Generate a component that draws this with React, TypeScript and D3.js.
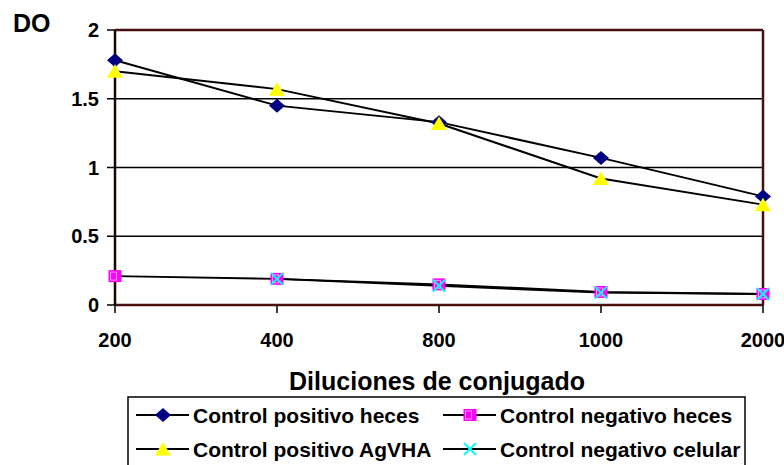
import React from "react";
import * as d3 from "d3";

const categories = ["200", "400", "800", "1000", "2000"];
const positivoHeces = [1.78, 1.45, 1.33, 1.07, 0.79];
const positivoAgVHA = [1.7, 1.57, 1.32, 0.92, 0.73];
const negativoHeces = [0.21, 0.19, 0.15, 0.095, 0.08];
const negativoCelular: (number | null)[] = [null, 0.19, 0.14, 0.09, 0.08];
const yTicks = [0, 0.5, 1, 1.5, 2];
const seriesNames = [
  "Control positivo heces",
  "Control negativo heces",
  "Control positivo AgVHA",
  "Control negativo celular",
];

const FONT = "'Liberation Sans', Arial, sans-serif";

type MarkerKind = "diamond" | "square" | "triangle" | "x";

function Marker({ kind, x, y }: { kind: MarkerKind; x: number; y: number }) {
  if (kind === "diamond") {
    return (
      <path
        d={`M${x - 8},${y} L${x},${y - 7} L${x + 8},${y} L${x},${y + 7} Z`}
        fill="#000080"
      />
    );
  }
  if (kind === "triangle") {
    return (
      <path
        d={`M${x},${y - 7} L${x + 8},${y + 6.5} L${x - 8},${y + 6.5} Z`}
        fill="#ffff00"
      />
    );
  }
  if (kind === "square") {
    return (
      <g>
        <rect x={x - 6.5} y={y - 6} width={13} height={12} fill="#ff00ff" />
        <rect x={x - 4.5} y={y - 4} width={6} height={8} fill="none" stroke="#ff99ff" strokeWidth={1} />
      </g>
    );
  }
  return (
    <g stroke="#00ffff" strokeWidth={2}>
      <line x1={x - 6} y1={y - 6} x2={x + 6} y2={y + 6} />
      <line x1={x - 6} y1={y + 6} x2={x + 6} y2={y - 6} />
    </g>
  );
}

export default function App() {
  const W = 784;
  const H = 465;
  const left = 115;
  const right = 763;
  const top = 30;
  const bottom = 305;

  const x = d3.scalePoint<string>().domain(categories).range([left, right]).padding(0);
  const y = d3.scaleLinear().domain([0, 2]).range([bottom, top]);

  const line = d3
    .line<number | null>()
    .defined((d) => d !== null)
    .x((_, i) => x(categories[i]) as number)
    .y((d) => y(d as number));

  const series: { name: string; values: (number | null)[]; kind: MarkerKind }[] = [
    { name: seriesNames[0], values: positivoHeces, kind: "diamond" },
    { name: seriesNames[1], values: negativoHeces, kind: "square" },
    { name: seriesNames[2], values: positivoAgVHA, kind: "triangle" },
    { name: seriesNames[3], values: negativoCelular, kind: "x" },
  ];

  const drawOrder = [series[0], series[2], series[1], series[3]];

  const legendItems = [
    { s: series[0], lx: 136, ty: 415 },
    { s: series[1], lx: 443, ty: 415 },
    { s: series[2], lx: 136, ty: 449 },
    { s: series[3], lx: 443, ty: 449 },
  ];

  const border = "#4a1010";

  return (
    <svg
      width={W}
      height={H}
      style={{ position: "fixed", left: 0, top: 0, background: "#fff" }}
      fontFamily={FONT}
    >
      <rect x={0} y={0} width={W} height={H} fill="#fff" />
      {yTicks.filter((t) => t > 0 && t < 2).map((t) => (
        <line key={t} x1={left} x2={right} y1={y(t)} y2={y(t)} stroke="#000" strokeWidth={1.5} />
      ))}
      <line x1={left} x2={right} y1={top} y2={top} stroke={border} strokeWidth={2.5} />
      <line x1={right} x2={right} y1={top} y2={bottom} stroke={border} strokeWidth={2.5} />
      <line x1={left} x2={right} y1={bottom} y2={bottom} stroke={border} strokeWidth={2.5} />
      <line x1={left} x2={left} y1={top} y2={bottom} stroke="#1a0505" strokeWidth={2.5} />
      {yTicks.map((t) => (
        <g key={t}>
          <line x1={left - 8} x2={left} y1={y(t)} y2={y(t)} stroke="#000" strokeWidth={1.5} />
          <text x={99} y={y(t)} dy="0.36em" textAnchor="end" fontSize={20} fontWeight="bold">
            {String(t)}
          </text>
        </g>
      ))}
      {categories.map((c) => (
        <g key={c}>
          <line x1={x(c)} x2={x(c)} y1={bottom} y2={bottom + 8} stroke="#000" strokeWidth={1.5} />
          <text x={x(c)} y={347} textAnchor="middle" fontSize={20} fontWeight="bold">
            {c}
          </text>
        </g>
      ))}
      {drawOrder.map((s) => (
        <path key={s.name + "l"} d={line(s.values) || ""} fill="none" stroke="#000" strokeWidth={2} />
      ))}
      {drawOrder.map((s) =>
        s.values.map((v, i) =>
          v === null ? null : (
            <Marker key={s.name + i} kind={s.kind} x={x(categories[i]) as number} y={y(v)} />
          )
        )
      )}
      <text x={13} y={32} fontSize={25} fontWeight="bold">
        DO
      </text>
      <text x={437} y={390} textAnchor="middle" fontSize={25} fontWeight="bold">
        Diluciones de conjugado
      </text>
      <rect x={128} y={397} width={617} height={100} fill="#fff" stroke="#000" strokeWidth={1.5} />
      {legendItems.map(({ s, lx, ty }) => (
        <g key={s.name + "lg"}>
          <line x1={lx} x2={lx + 53} y1={ty} y2={ty} stroke="#000" strokeWidth={2} />
          <Marker kind={s.kind} x={lx + 27} y={ty} />
          <text x={lx + 57} y={ty} dy="0.36em" fontSize={21} fontWeight="bold">
            {s.name}
          </text>
        </g>
      ))}
    </svg>
  );
}
